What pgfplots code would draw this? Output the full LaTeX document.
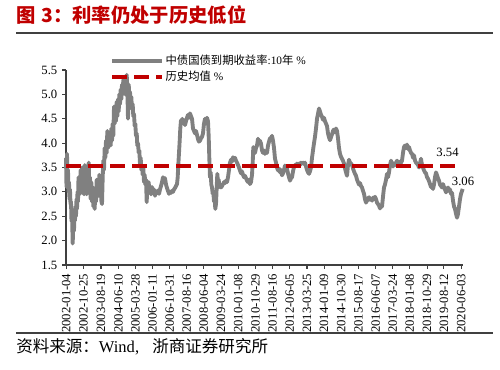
\documentclass[border=0pt]{standalone}
\usepackage{fontspec}
\setmainfont{Liberation Serif}
\newfontfamily\cjk{Noto Sans CJK SC}
\usepackage{pgfplots}
\usepackage{pgfplotstable}
\pgfplotsset{compat=1.18}
\definecolor{axgray}{HTML}{404040}
\definecolor{serieGray}{HTML}{808080}
\definecolor{meanRed}{HTML}{C00000}

\pgfplotstableread{
x y
2002.000 3.70
2002.023 3.10
2002.047 3.78
2002.070 3.25
2002.093 3.45
2002.117 3.00
2002.140 3.20
2002.163 2.85
2002.186 3.05
2002.210 2.75
2002.233 2.80
2002.256 2.40
2002.280 2.55
2002.312 1.94
2002.340 2.35
2002.373 2.20
2002.396 2.60
2002.419 2.41
2002.443 2.70
2002.466 2.50
2002.489 2.85
2002.513 2.65
2002.536 3.00
2002.559 2.80
2002.583 3.30
2002.606 2.95
2002.629 3.20
2002.652 2.96
2002.685 3.45
2002.713 3.05
2002.746 3.50
2002.778 3.00
2002.806 3.40
2002.839 2.95
2002.871 3.55
2002.899 3.10
2002.932 3.45
2002.965 2.95
2002.993 3.40
2003.025 3.05
2003.058 3.60
2003.086 3.00
2003.118 3.30
2003.151 2.85
2003.179 3.20
2003.212 2.80
2003.244 3.10
2003.272 2.70
2003.305 2.95
2003.337 2.65
2003.365 3.05
2003.398 2.80
2003.431 3.25
2003.459 2.90
2003.491 3.20
2003.524 2.95
2003.552 3.35
2003.584 2.95
2003.617 3.15
2003.645 2.82
2003.678 2.75
2003.710 3.30
2003.738 3.64
2003.771 3.45
2003.803 3.90
2003.831 3.70
2003.864 4.05
2003.897 3.80
2003.925 4.25
2003.957 3.90
2003.990 4.10
2004.018 3.95
2004.050 4.20
2004.083 3.95
2004.111 4.30
2004.144 4.05
2004.176 4.40
2004.204 4.15
2004.237 4.75
2004.269 4.40
2004.297 4.65
2004.330 4.45
2004.363 4.85
2004.391 4.55
2004.423 4.90
2004.456 4.65
2004.484 5.00
2004.516 4.80
2004.549 5.10
2004.577 4.90
2004.610 5.20
2004.642 5.00
2004.670 5.30
2004.703 5.10
2004.735 5.35
2004.763 5.00
2004.796 5.30
2004.829 5.40
2004.857 5.15
2004.889 4.50
2004.922 5.20
2004.950 5.00
2004.982 5.05
2005.015 4.85
2005.043 4.95
2005.076 4.70
2005.108 4.80
2005.136 4.55
2005.169 4.60
2005.201 4.35
2005.229 4.40
2005.262 4.15
2005.295 4.20
2005.323 3.95
2005.355 4.00
2005.388 3.80
2005.416 3.85
2005.448 3.58
2005.481 3.70
2005.509 3.45
2005.542 3.55
2005.574 3.35
2005.602 3.50
2005.635 3.20
2005.667 3.35
2005.695 3.15
2005.728 3.25
2005.761 2.79
2005.789 3.15
2005.821 3.05
2005.854 3.20
2005.882 3.00
2005.914 3.10
2005.961 2.95
2006.008 3.10
2006.054 2.98
2006.101 3.05
2006.147 2.92
2006.194 3.00
2006.241 2.98
2006.287 3.03
2006.334 2.96
2006.380 3.05
2006.427 3.12
2006.474 3.20
2006.520 3.30
2006.567 3.25
2006.613 3.28
2006.660 3.15
2006.707 3.08
2006.753 3.02
2006.800 2.96
2006.846 3.00
2006.893 2.98
2006.940 3.02
2006.986 3.00
2007.033 3.05
2007.079 3.08
2007.126 3.12
2007.173 3.16
2007.205 3.30
2007.233 3.55
2007.266 3.80
2007.298 4.05
2007.326 4.30
2007.359 4.47
2007.392 4.40
2007.420 4.50
2007.452 4.42
2007.499 4.47
2007.545 4.37
2007.592 4.45
2007.639 4.52
2007.685 4.58
2007.732 4.52
2007.778 4.61
2007.825 4.55
2007.872 4.50
2007.918 4.30
2007.965 4.25
2008.011 4.20
2008.058 4.25
2008.105 4.17
2008.151 4.08
2008.198 4.03
2008.244 4.05
2008.291 4.10
2008.338 4.13
2008.384 4.20
2008.431 4.40
2008.477 4.50
2008.524 4.45
2008.571 4.52
2008.617 4.45
2008.650 4.13
2008.678 3.70
2008.710 3.30
2008.743 3.40
2008.771 3.15
2008.804 3.09
2008.836 2.96
2008.864 3.00
2008.897 2.80
2008.929 2.85
2008.957 2.65
2008.990 2.75
2009.023 3.10
2009.051 3.37
2009.083 3.20
2009.116 3.25
2009.144 3.10
2009.176 3.15
2009.223 3.09
2009.270 3.12
2009.316 3.16
2009.363 3.20
2009.409 3.18
2009.456 3.23
2009.503 3.20
2009.549 3.30
2009.596 3.45
2009.642 3.60
2009.689 3.66
2009.736 3.62
2009.782 3.71
2009.829 3.66
2009.875 3.70
2009.922 3.64
2009.969 3.60
2010.015 3.55
2010.062 3.50
2010.108 3.44
2010.155 3.38
2010.202 3.42
2010.248 3.35
2010.295 3.30
2010.341 3.33
2010.388 3.28
2010.435 3.23
2010.481 3.20
2010.528 3.25
2010.574 3.16
2010.621 3.20
2010.668 3.35
2010.700 3.60
2010.728 3.92
2010.761 3.85
2010.807 3.80
2010.854 3.90
2010.901 3.95
2010.947 4.09
2010.994 4.00
2011.040 4.05
2011.087 3.99
2011.134 3.85
2011.180 3.80
2011.227 3.85
2011.273 3.78
2011.320 3.82
2011.367 3.80
2011.413 3.95
2011.460 4.03
2011.506 4.10
2011.553 4.08
2011.600 4.15
2011.646 4.05
2011.693 3.90
2011.739 3.68
2011.786 3.60
2011.833 3.50
2011.879 3.44
2011.926 3.48
2011.972 3.40
2012.019 3.45
2012.066 3.34
2012.112 3.38
2012.159 3.45
2012.205 3.54
2012.252 3.50
2012.299 3.47
2012.345 3.38
2012.392 3.30
2012.438 3.23
2012.485 3.28
2012.532 3.30
2012.578 3.42
2012.625 3.51
2012.671 3.55
2012.718 3.53
2012.765 3.58
2012.811 3.55
2012.858 3.58
2012.904 3.55
2012.951 3.60
2012.998 3.58
2013.044 3.60
2013.091 3.57
2013.137 3.60
2013.184 3.52
2013.231 3.45
2013.277 3.40
2013.324 3.37
2013.370 3.42
2013.417 3.50
2013.464 3.70
2013.510 3.85
2013.557 4.00
2013.603 4.13
2013.650 4.30
2013.697 4.50
2013.743 4.60
2013.790 4.71
2013.836 4.65
2013.883 4.58
2013.930 4.54
2013.976 4.48
2014.023 4.52
2014.069 4.45
2014.116 4.40
2014.163 4.35
2014.209 4.20
2014.256 4.12
2014.302 4.06
2014.349 4.12
2014.396 4.18
2014.442 4.25
2014.489 4.28
2014.535 4.22
2014.582 4.30
2014.629 4.25
2014.675 4.10
2014.722 3.90
2014.768 3.78
2014.815 3.72
2014.862 3.68
2014.908 3.64
2014.955 3.58
2015.001 3.48
2015.048 3.40
2015.095 3.33
2015.141 3.55
2015.188 3.66
2015.234 3.60
2015.281 3.58
2015.328 3.55
2015.374 3.48
2015.421 3.42
2015.467 3.37
2015.514 3.33
2015.561 3.25
2015.607 3.20
2015.654 3.15
2015.700 3.18
2015.747 3.12
2015.794 3.09
2015.840 3.02
2015.887 2.96
2015.933 2.85
2015.980 2.78
2016.027 2.82
2016.073 2.86
2016.120 2.89
2016.166 2.84
2016.213 2.86
2016.260 2.82
2016.306 2.88
2016.353 2.86
2016.399 2.90
2016.446 2.85
2016.493 2.78
2016.539 2.75
2016.586 2.72
2016.632 2.66
2016.679 2.72
2016.726 2.70
2016.772 2.90
2016.819 3.09
2016.865 3.15
2016.912 3.25
2016.959 3.37
2017.005 3.30
2017.052 3.40
2017.098 3.55
2017.145 3.64
2017.192 3.58
2017.238 3.52
2017.285 3.58
2017.331 3.55
2017.378 3.60
2017.425 3.64
2017.471 3.58
2017.518 3.62
2017.564 3.58
2017.611 3.60
2017.658 3.64
2017.704 3.80
2017.751 3.92
2017.797 3.95
2017.844 3.90
2017.891 3.97
2017.937 3.88
2017.984 3.92
2018.030 3.85
2018.077 3.80
2018.124 3.78
2018.170 3.70
2018.217 3.75
2018.263 3.64
2018.310 3.60
2018.357 3.58
2018.403 3.55
2018.450 3.50
2018.496 3.58
2018.543 3.68
2018.590 3.55
2018.636 3.50
2018.683 3.44
2018.729 3.40
2018.776 3.38
2018.823 3.30
2018.869 3.27
2018.916 3.22
2018.962 3.16
2019.009 3.10
2019.056 3.12
2019.102 3.06
2019.149 3.15
2019.195 3.30
2019.242 3.40
2019.289 3.34
2019.335 3.28
2019.382 3.23
2019.428 3.15
2019.475 3.12
2019.522 3.09
2019.568 3.16
2019.615 3.10
2019.661 3.05
2019.708 2.99
2019.755 3.05
2019.801 3.09
2019.848 3.02
2019.894 3.05
2019.941 2.96
2019.988 2.98
2020.034 2.82
2020.081 2.70
2020.127 2.65
2020.174 2.55
2020.221 2.47
2020.267 2.55
2020.314 2.70
2020.360 2.85
2020.407 2.96
2020.454 3.02
2020.486 3.06
}\yielddata

\begin{document}
\begin{tikzpicture}[x=0.75pt,y=0.75pt]
\useasboundingbox (0,0) rectangle (500,370);
\node[anchor=west, inner sep=0pt, text=meanRed, font=\cjk\bfseries\fontsize{14.5}{16}\selectfont] at (16,355) {图\hspace{0.3em}3：利率仍处于历史低位};
\draw[axgray, line width=1pt] (16,337) -- (493,337);
\draw[axgray, line width=1pt] (16,37) -- (493,37);
\node[anchor=west, inner sep=0pt, font=\fontsize{12.4}{14}\selectfont] at (16,23) {{\cjk 资料来源：}Wind,\hspace{0.8em}{\cjk 浙商证券研究所}};
\begin{axis}[
  at={(49.5pt,78.75pt)}, anchor=south west, scale only axis,
  width=297.75pt, height=146.25pt,
  xmin=2002, xmax=2020.5, ymin=1.5, ymax=5.5,
  axis x line*=bottom, axis y line*=left,
  axis line style={-, axgray, line width=1.2pt},
  xtick pos=left, ytick pos=left,
  tick align=outside, major tick length=3pt,
  tick style={axgray, line width=0.8pt},
  /pgf/number format/assume math mode=true,
  tick label style={font=\fontsize{9.5}{10}\selectfont, text=black},
  ytick={1.5,2,2.5,3,3.5,4,4.5,5,5.5},
  yticklabel style={/pgf/number format/fixed, /pgf/number format/fixed zerofill, /pgf/number format/precision=1},
  xtick={2002.01,2002.815,2003.63,2004.44,2005.235,2006.03,2006.83,2007.62,2008.42,2009.225,2010.02,2010.825,2011.62,2012.43,2013.23,2014.025,2014.83,2015.625,2016.43,2017.225,2018.02,2018.825,2019.61,2020.42},
  xticklabels={2002-01-04,2002-10-25,2003-08-19,2004-06-10,2005-03-28,2006-01-11,2006-10-31,2007-08-16,2008-06-04,2009-03-24,2010-01-08,2010-10-29,2011-08-16,2012-06-05,2013-03-25,2014-01-09,2014-10-30,2015-08-17,2016-06-07,2017-03-24,2018-01-08,2018-10-29,2019-08-12,2020-06-03},
  x tick label style={rotate=90, anchor=east},
  clip=false,
  legend style={at={(0.111,1.085)}, anchor=north west, draw=none, fill=none, inner sep=0pt, row sep=1.5pt, font=\fontsize{8.5}{10}\selectfont, nodes={inner sep=1pt}},
  legend cell align=left,
  legend image code/.code={\draw[#1] (0pt,0pt) -- (37.5pt,0pt);},
]
\addplot[serieGray, line width=2.9pt, line join=round] table[x=x,y=y] {\yielddata};
\addlegendentry{{\cjk 中债国债到期收益率}:10{\cjk 年} \%}
\addplot[meanRed, line width=3pt, dash pattern=on 11pt off 5.5pt] coordinates {(2002,3.54) (2020.267,3.54)};
\addlegendentry{{\cjk 历史均值} \%}
\node[font=\fontsize{9.5}{10}\selectfont] at (axis cs:2019.78,3.815) {3.54};
\node[font=\fontsize{9.5}{10}\selectfont] at (axis cs:2020.5,3.21) {3.06};
\end{axis}
\end{tikzpicture}
\end{document}
